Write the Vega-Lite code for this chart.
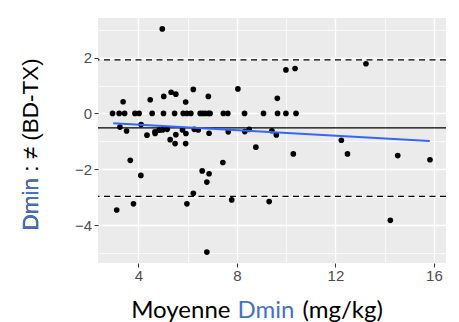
{
  "$schema": "https://vega.github.io/schema/vega-lite/v6.json",
  "width": 348,
  "height": 245,
  "autosize": {"type": "none"},
  "padding": {"left": 98, "top": 18, "right": 13, "bottom": 59},
  "background": "white",
  "config": {
    "view": {"fill": "#EBEBEB", "stroke": null},
    "axis": {"domain": false, "labelFont": "Liberation Sans", "titleFont": "Liberation Sans"}
  },
  "datasets": {
    "pts": [
      {"m": 2.95, "d": 0}, {"m": 3.22, "d": 0}, {"m": 3.44, "d": 0}, {"m": 3.86, "d": 0}, {"m": 4.03, "d": 0},
      {"m": 4.56, "d": 0}, {"m": 5.02, "d": 0}, {"m": 5.47, "d": 0}, {"m": 5.82, "d": 0}, {"m": 5.97, "d": 0},
      {"m": 6.13, "d": 0}, {"m": 6.51, "d": 0}, {"m": 6.61, "d": 0}, {"m": 6.72, "d": 0}, {"m": 6.85, "d": 0},
      {"m": 6.91, "d": 0}, {"m": 7.45, "d": 0}, {"m": 7.63, "d": 0}, {"m": 8.31, "d": 0}, {"m": 9.08, "d": 0},
      {"m": 9.65, "d": 0}, {"m": 9.99, "d": 0}, {"m": 10.40, "d": 0},
      {"m": 3.38, "d": 0.42}, {"m": 4.48, "d": 0.49}, {"m": 5.03, "d": 0.61}, {"m": 5.33, "d": 0.76},
      {"m": 5.52, "d": 0.69}, {"m": 5.92, "d": 0.41}, {"m": 6.23, "d": 0.86}, {"m": 6.84, "d": 0.61},
      {"m": 8.04, "d": 0.88}, {"m": 9.64, "d": 0.54}, {"m": 9.99, "d": 1.56}, {"m": 10.36, "d": 1.61},
      {"m": 13.24, "d": 1.78}, {"m": 4.97, "d": 3.03},
      {"m": 3.25, "d": -0.49}, {"m": 3.52, "d": -0.63}, {"m": 4.11, "d": -0.40}, {"m": 4.35, "d": -0.78},
      {"m": 4.67, "d": -0.66}, {"m": 4.68, "d": -0.72}, {"m": 4.84, "d": -0.60}, {"m": 4.98, "d": -0.59},
      {"m": 5.17, "d": -0.57}, {"m": 5.29, "d": -0.94}, {"m": 5.49, "d": -1.08}, {"m": 5.52, "d": -0.76},
      {"m": 5.79, "d": -0.59}, {"m": 5.92, "d": -1.08}, {"m": 5.93, "d": -0.72}, {"m": 6.27, "d": -0.57},
      {"m": 6.43, "d": -0.59}, {"m": 6.87, "d": -0.71}, {"m": 7.65, "d": -0.66}, {"m": 8.32, "d": -0.65},
      {"m": 8.50, "d": -0.57}, {"m": 9.42, "d": -0.62}, {"m": 9.60, "d": -0.77}, {"m": 8.77, "d": -1.21},
      {"m": 10.29, "d": -1.45}, {"m": 12.24, "d": -0.96}, {"m": 12.49, "d": -1.45}, {"m": 14.53, "d": -1.51},
      {"m": 15.84, "d": -1.66}, {"m": 3.67, "d": -1.68}, {"m": 4.10, "d": -2.22}, {"m": 6.59, "d": -2.06},
      {"m": 6.87, "d": -2.16}, {"m": 6.78, "d": -2.46}, {"m": 7.43, "d": -1.76}, {"m": 6.23, "d": -2.86},
      {"m": 5.97, "d": -3.24}, {"m": 7.79, "d": -3.10}, {"m": 9.31, "d": -3.16}, {"m": 3.12, "d": -3.46},
      {"m": 3.80, "d": -3.24}, {"m": 6.78, "d": -4.97}, {"m": 14.23, "d": -3.83}
    ],
    "fit": [{"m": 2.98, "d": -0.35}, {"m": 15.83, "d": -0.99}],
    "lines": [{"d": 1.92, "kind": "limit"}, {"d": -0.52, "kind": "mean"}, {"d": -2.97, "kind": "limit"}]
  },
  "resolve": {"axis": {"x": "independent", "y": "independent"}},
  "layer": [
    {
      "data": {"name": "lines"},
      "mark": {"type": "rule", "color": "black", "strokeWidth": 1.3},
      "encoding": {
        "y": {"field": "d", "type": "quantitative", "scale": {"domain": [-5.36, 3.42], "nice": false, "zero": false},
          "axis": {"orient": "left", "labels": false, "ticks": false, "grid": false, "domain": false,
            "title": "(mg/kg)", "titleAngle": 0, "titleAlign": "left", "titleBaseline": "alphabetic",
            "titleX": 204, "titleY": 299.7, "titleFont": "Lato", "titleFontSize": 24, "titleFontWeight": "normal", "titleColor": "black"}},
        "strokeDash": {"field": "kind", "type": "nominal", "scale": {"domain": ["mean", "limit"], "range": [[1, 0], [6, 4.5]]}, "legend": null}
      }
    },
    {
      "data": {"name": "pts"},
      "mark": {"type": "point", "filled": true, "color": "black", "opacity": 1, "size": 32},
      "encoding": {
        "x": {"field": "m", "type": "quantitative", "scale": {"domain": [2.36, 16.49], "nice": false, "zero": false},
          "axis": {"orient": "bottom", "values": [4, 6, 8, 10, 12, 14, 16],
            "labelExpr": "datum.value % 4 === 0 ? datum.label : ''",
            "labelFontSize": 15, "labelColor": "#4D4D4D", "labelPadding": 1.5,
            "tickSize": 4, "tickColor": "#333333", "tickWidth": 1,
            "tickOpacity": {"condition": {"test": "datum.value % 4 === 0", "value": 1}, "value": 0},
            "grid": true, "gridColor": "white",
            "gridWidth": {"condition": {"test": "datum.value % 4 === 0", "value": 1.4}, "value": 0.7},
            "title": "Moyenne", "titleAlign": "right", "titleBaseline": "alphabetic", "titleAngle": 0,
            "titleX": 132, "titleY": 54.7, "titleFont": "Lato", "titleFontSize": 24, "titleFontWeight": "normal", "titleColor": "black"}},
        "y": {"field": "d", "type": "quantitative",
          "axis": {"orient": "left", "values": [-5, -4, -3, -2, -1, 0, 1, 2, 3],
            "labelExpr": "datum.value % 2 === 0 ? datum.label : ''",
            "labelFontSize": 15, "labelColor": "#4D4D4D", "labelPadding": 2.5,
            "tickSize": 4, "tickColor": "#333333", "tickWidth": 1,
            "tickOpacity": {"condition": {"test": "datum.value % 2 === 0", "value": 1}, "value": 0},
            "grid": true, "gridColor": "white",
            "gridWidth": {"condition": {"test": "datum.value % 2 === 0", "value": 1.4}, "value": 0.7},
            "title": "Dmin : ≠ (BD-TX)", "titleAngle": -90, "titleAlign": "left", "titleBaseline": "alphabetic",
            "titleX": -60.2, "titleY": 212, "titleFontSize": 22.5, "titleFontWeight": "normal", "titleColor": "black"}}
      }
    },
    {
      "data": {"name": "fit"},
      "mark": {"type": "line", "color": "#3366FF", "strokeWidth": 2},
      "encoding": {
        "x": {"field": "m", "type": "quantitative",
          "axis": {"orient": "bottom", "labels": false, "ticks": false, "grid": false, "domain": false,
            "title": "Dmin", "titleAlign": "left", "titleBaseline": "alphabetic", "titleAngle": 0,
            "titleX": 139, "titleY": 54.7, "titleFont": "Lato", "titleFontSize": 24, "titleFontWeight": "normal", "titleColor": "#4472C4"}},
        "y": {"field": "d", "type": "quantitative",
          "axis": {"orient": "left", "labels": false, "ticks": false, "grid": false, "domain": false,
            "title": "Dmin", "titleAngle": -90, "titleAlign": "left", "titleBaseline": "alphabetic",
            "titleX": -60.2, "titleY": 212, "titleFontSize": 22.5, "titleFontWeight": "normal", "titleColor": "#4472C4"}}
      }
    }
  ]
}
